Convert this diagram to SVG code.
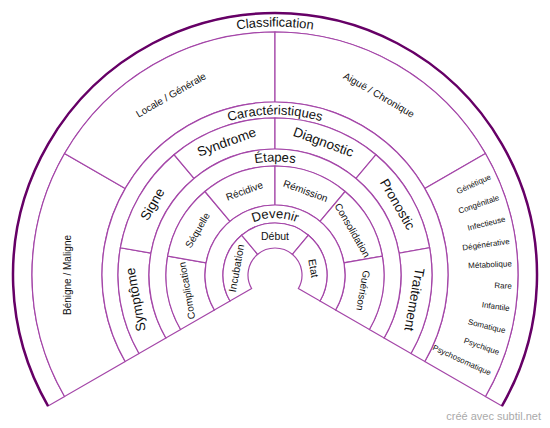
<svg xmlns="http://www.w3.org/2000/svg" xmlns:xlink="http://www.w3.org/1999/xlink" width="550" height="428" viewBox="0 0 550 428">
<style>
.seg{fill:#fff;stroke:#a446a8;stroke-width:1.2;}
.rim{fill:none;stroke:#660066;stroke-width:2.5;}
text{font-family:"Liberation Sans",Arial,sans-serif;fill:#111;}
.band{font-size:13px;}
.r1{font-size:10.5px;text-anchor:middle;dominant-baseline:central;}
.r2{font-size:10px;text-anchor:middle;dominant-baseline:central;}
.r3{font-size:13.5px;text-anchor:middle;dominant-baseline:central;}
.r4{font-size:10px;text-anchor:middle;dominant-baseline:central;}
.li{font-size:8px;text-anchor:end;dominant-baseline:central;}
.credit{font-size:11px;fill:#aaa;text-anchor:end;}
</style>
<rect width="550" height="428" fill="#fff"/>
<g transform="translate(275,275)">
<defs>
<path id="pClass" d="M -248.5 0 A 248.5 248.5 0 0 1 248.5 0"/>
<path id="pCar" d="M -160.5 0 A 160.5 160.5 0 0 1 160.5 0"/>
<path id="pEta" d="M -113.5 0 A 113.5 113.5 0 0 1 113.5 0"/>
<path id="pDev" d="M -57 0 A 57 57 0 0 1 57 0"/>
</defs>
<g id="classification">
<path class="seg" d="M -226.899 131 A 262 262 0 1 1 226.899 131 L 210.444 121.5 A 243 243 0 1 0 -210.444 121.5 Z"/>
<path class="rim" d="M -226.899 131 A 262 262 0 1 1 226.899 131"/>
<text class="band"><textPath xlink:href="#pClass" href="#pClass" startOffset="50%" text-anchor="middle">Classification</textPath></text>
</g>
<g id="benigne-maligne">
<path class="seg" d="M -210.444 121.5 A 243 243 0 0 1 -210.444 -121.5 L -149.822 -86.5 A 173 173 0 0 0 -149.822 86.5 Z"/>
<text class="r4" transform="rotate(180) translate(208,0) rotate(90)">Bénigne / Maligne</text>
</g>
<g id="locale-generale">
<path class="seg" d="M -210.444 -121.5 A 243 243 0 0 1 0 -243 L 0 -173 A 173 173 0 0 0 -149.822 -86.5 Z"/>
<text class="r4" transform="rotate(240) translate(208,0) rotate(90)">Locale / Générale</text>
</g>
<g id="aigue-chronique">
<path class="seg" d="M 0 -243 A 243 243 0 0 1 210.444 -121.5 L 149.822 -86.5 A 173 173 0 0 0 0 -173 Z"/>
<text class="r4" transform="rotate(300) translate(208,0) rotate(90)">Aiguë / Chronique</text>
</g>
<g id="origines">
<path class="seg" d="M 210.444 -121.5 A 243 243 0 0 1 210.444 121.5 L 149.822 86.5 A 173 173 0 0 0 149.822 -86.5 Z"/>
<text class="li" transform="rotate(335.455) translate(237,0)">Génétique</text>
<text class="li" transform="rotate(340.909) translate(237,0)">Congénitale</text>
<text class="li" transform="rotate(346.364) translate(237,0)">Infectieuse</text>
<text class="li" transform="rotate(351.818) translate(237,0)">Dégénérative</text>
<text class="li" transform="rotate(357.273) translate(237,0)">Métabolique</text>
<text class="li" transform="rotate(362.727) translate(237,0)">Rare</text>
<text class="li" transform="rotate(368.182) translate(237,0)">Infantile</text>
<text class="li" transform="rotate(373.636) translate(237,0)">Somatique</text>
<text class="li" transform="rotate(379.091) translate(237,0)">Psychique</text>
<text class="li" transform="rotate(384.545) translate(237,0)">Psychosomatique</text>
</g>
<g id="caracteristiques">
<path class="seg" d="M -149.822 86.5 A 173 173 0 1 1 149.822 86.5 L 135.966 78.5 A 157 157 0 1 0 -135.966 78.5 Z"/>
<text class="band"><textPath xlink:href="#pCar" href="#pCar" startOffset="50%" text-anchor="middle">Caractéristiques</textPath></text>
</g>
<g id="symptome">
<path class="seg" d="M -135.966 78.5 A 157 157 0 0 1 -154.615 -27.263 L -124.086 -21.880 A 126 126 0 0 0 -109.119 63 Z"/>
<text class="r3" transform="rotate(170) translate(141.5,0) rotate(90)">Symptôme</text>
</g>
<g id="signe">
<path class="seg" d="M -154.615 -27.263 A 157 157 0 0 1 -100.918 -120.269 L -80.991 -96.522 A 126 126 0 0 0 -124.086 -21.880 Z"/>
<text class="r3" transform="rotate(210) translate(141.5,0) rotate(90)">Signe</text>
</g>
<g id="syndrome">
<path class="seg" d="M -100.918 -120.269 A 157 157 0 0 1 0 -157 L 0 -126 A 126 126 0 0 0 -80.991 -96.522 Z"/>
<text class="r3" transform="rotate(250) translate(141.5,0) rotate(90)">Syndrome</text>
</g>
<g id="diagnostic">
<path class="seg" d="M 0 -157 A 157 157 0 0 1 100.918 -120.269 L 80.991 -96.522 A 126 126 0 0 0 0 -126 Z"/>
<text class="r3" transform="rotate(290) translate(141.5,0) rotate(90)">Diagnostic</text>
</g>
<g id="pronostic">
<path class="seg" d="M 100.918 -120.269 A 157 157 0 0 1 154.615 -27.263 L 124.086 -21.880 A 126 126 0 0 0 80.991 -96.522 Z"/>
<text class="r3" transform="rotate(330) translate(141.5,0) rotate(90)">Pronostic</text>
</g>
<g id="traitement">
<path class="seg" d="M 154.615 -27.263 A 157 157 0 0 1 135.966 78.5 L 109.119 63 A 126 126 0 0 0 124.086 -21.880 Z"/>
<text class="r3" transform="rotate(370) translate(141.5,0) rotate(90)">Traitement</text>
</g>
<g id="etapes">
<path class="seg" d="M -109.119 63 A 126 126 0 1 1 109.119 63 L 94.397 54.5 A 109 109 0 1 0 -94.397 54.5 Z"/>
<text class="band"><textPath xlink:href="#pEta" href="#pEta" startOffset="50%" text-anchor="middle">Étapes</textPath></text>
</g>
<g id="complication">
<path class="seg" d="M -94.397 54.5 A 109 109 0 0 1 -107.344 -18.928 L -68.937 -12.155 A 70 70 0 0 0 -60.622 35 Z"/>
<text class="r2" transform="rotate(170) translate(89.5,0) rotate(90)">Complication</text>
</g>
<g id="sequelle">
<path class="seg" d="M -107.344 -18.928 A 109 109 0 0 1 -70.064 -83.499 L -44.995 -53.623 A 70 70 0 0 0 -68.937 -12.155 Z"/>
<text class="r2" transform="rotate(210) translate(89.5,0) rotate(90)">Séquelle</text>
</g>
<g id="recidive">
<path class="seg" d="M -70.064 -83.499 A 109 109 0 0 1 0 -109 L 0 -70 A 70 70 0 0 0 -44.995 -53.623 Z"/>
<text class="r2" transform="rotate(250) translate(89.5,0) rotate(90)">Récidive</text>
</g>
<g id="remission">
<path class="seg" d="M 0 -109 A 109 109 0 0 1 70.064 -83.499 L 44.995 -53.623 A 70 70 0 0 0 0 -70 Z"/>
<text class="r2" transform="rotate(290) translate(89.5,0) rotate(90)">Rémission</text>
</g>
<g id="consolidation">
<path class="seg" d="M 70.064 -83.499 A 109 109 0 0 1 107.344 -18.928 L 68.937 -12.155 A 70 70 0 0 0 44.995 -53.623 Z"/>
<text class="r2" transform="rotate(330) translate(89.5,0) rotate(90)">Consolidation</text>
</g>
<g id="guerison">
<path class="seg" d="M 107.344 -18.928 A 109 109 0 0 1 94.397 54.5 L 60.622 35 A 70 70 0 0 0 68.937 -12.155 Z"/>
<text class="r2" transform="rotate(370) translate(89.5,0) rotate(90)">Guérison</text>
</g>
<g id="devenir">
<path class="seg" d="M -60.622 35 A 70 70 0 1 1 60.622 35 L 45.033 26 A 52 52 0 1 0 -45.033 26 Z"/>
<text class="band"><textPath xlink:href="#pDev" href="#pDev" startOffset="50%" text-anchor="middle">Devenir</textPath></text>
</g>
<g id="incubation">
<path class="seg" d="M -45.033 26 A 52 52 0 0 1 -33.425 -39.834 L -17.355 -20.683 A 27 27 0 0 0 -23.383 13.5 Z"/>
<text class="r1" transform="rotate(190) translate(39.5,0) rotate(90)">Incubation</text>
</g>
<g id="debut">
<path class="seg" d="M -33.425 -39.834 A 52 52 0 0 1 33.425 -39.834 L 17.355 -20.683 A 27 27 0 0 0 -17.355 -20.683 Z"/>
<text class="r1" transform="rotate(270) translate(39.5,0) rotate(90)">Début</text>
</g>
<g id="etat">
<path class="seg" d="M 33.425 -39.834 A 52 52 0 0 1 45.033 26 L 23.383 13.5 A 27 27 0 0 0 17.355 -20.683 Z"/>
<text class="r1" transform="rotate(350) translate(39.5,0) rotate(90)">Etat</text>
</g>
</g>
<text class="credit" x="541" y="420">créé avec subtil.net</text>
</svg>
